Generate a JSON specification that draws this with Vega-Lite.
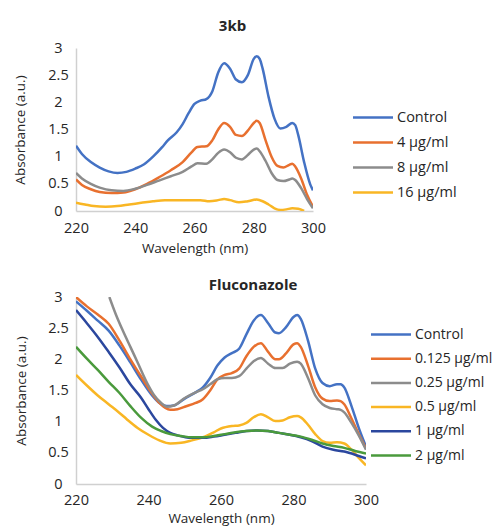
{
  "$schema": "https://vega.github.io/schema/vega-lite/v6.json",
  "background": "white",
  "padding": {"top": 19, "left": 13, "right": 0, "bottom": 3},
  "spacing": 23,
  "config": {
    "font": "Open Sans",
    "view": {"stroke": null},
    "axis": {"grid": false, "ticks": false, "labelFlush": false, "domainColor": "#D0D0D0", "domainWidth": 1.5, "labelFont": "Open Sans", "labelFontSize": 14.5, "labelColor": "#262626", "titleFont": "Open Sans", "titleFontSize": 13.5, "titleFontWeight": "normal", "titleColor": "#262626"},
    "legend": {"labelFont": "Open Sans", "labelFontSize": 14, "labelColor": "#262626", "symbolType": "M-2,0H2", "symbolSize": 400, "symbolStrokeWidth": 2.5, "symbolOffset": 8.5, "labelOffset": 12.5, "title": null}
  },
  "resolve": {"scale": {"color": "independent"}},
  "datasets": {
    "top": [
      {"s":"Control","wl":220,"A":1.20},{"s":"Control","wl":222,"A":1.05},{"s":"Control","wl":225,"A":0.90},{"s":"Control","wl":228,"A":0.80},{"s":"Control","wl":231,"A":0.73},{"s":"Control","wl":234,"A":0.70},{"s":"Control","wl":237,"A":0.72},{"s":"Control","wl":240,"A":0.78},{"s":"Control","wl":243,"A":0.86},{"s":"Control","wl":246,"A":1.00},{"s":"Control","wl":249,"A":1.17},{"s":"Control","wl":251,"A":1.30},{"s":"Control","wl":254,"A":1.45},{"s":"Control","wl":256,"A":1.60},{"s":"Control","wl":258,"A":1.80},{"s":"Control","wl":260,"A":1.97},{"s":"Control","wl":262,"A":2.03},{"s":"Control","wl":264,"A":2.06},{"s":"Control","wl":266,"A":2.20},{"s":"Control","wl":268,"A":2.55},{"s":"Control","wl":270,"A":2.72},{"s":"Control","wl":272,"A":2.62},{"s":"Control","wl":274,"A":2.42},{"s":"Control","wl":276,"A":2.37},{"s":"Control","wl":278,"A":2.50},{"s":"Control","wl":280,"A":2.80},{"s":"Control","wl":281,"A":2.85},{"s":"Control","wl":282,"A":2.80},{"s":"Control","wl":283,"A":2.62},{"s":"Control","wl":285,"A":2.10},{"s":"Control","wl":287,"A":1.70},{"s":"Control","wl":289,"A":1.52},{"s":"Control","wl":291,"A":1.55},{"s":"Control","wl":293,"A":1.62},{"s":"Control","wl":294,"A":1.58},{"s":"Control","wl":295,"A":1.40},{"s":"Control","wl":297,"A":0.90},{"s":"Control","wl":299,"A":0.50},{"s":"Control","wl":300,"A":0.38},
      {"s":"4 µg/ml","wl":220,"A":0.58},{"s":"4 µg/ml","wl":222,"A":0.48},{"s":"4 µg/ml","wl":225,"A":0.40},{"s":"4 µg/ml","wl":228,"A":0.35},{"s":"4 µg/ml","wl":232,"A":0.33},{"s":"4 µg/ml","wl":236,"A":0.34},{"s":"4 µg/ml","wl":240,"A":0.40},{"s":"4 µg/ml","wl":244,"A":0.50},{"s":"4 µg/ml","wl":248,"A":0.62},{"s":"4 µg/ml","wl":252,"A":0.75},{"s":"4 µg/ml","wl":256,"A":0.90},{"s":"4 µg/ml","wl":259,"A":1.08},{"s":"4 µg/ml","wl":261,"A":1.18},{"s":"4 µg/ml","wl":264,"A":1.19},{"s":"4 µg/ml","wl":266,"A":1.30},{"s":"4 µg/ml","wl":268,"A":1.50},{"s":"4 µg/ml","wl":270,"A":1.62},{"s":"4 µg/ml","wl":272,"A":1.55},{"s":"4 µg/ml","wl":274,"A":1.40},{"s":"4 µg/ml","wl":276,"A":1.38},{"s":"4 µg/ml","wl":278,"A":1.48},{"s":"4 µg/ml","wl":280,"A":1.62},{"s":"4 µg/ml","wl":281,"A":1.66},{"s":"4 µg/ml","wl":282,"A":1.62},{"s":"4 µg/ml","wl":284,"A":1.30},{"s":"4 µg/ml","wl":286,"A":1.00},{"s":"4 µg/ml","wl":288,"A":0.83},{"s":"4 µg/ml","wl":290,"A":0.80},{"s":"4 µg/ml","wl":292,"A":0.85},{"s":"4 µg/ml","wl":293,"A":0.87},{"s":"4 µg/ml","wl":294,"A":0.82},{"s":"4 µg/ml","wl":296,"A":0.60},{"s":"4 µg/ml","wl":298,"A":0.30},{"s":"4 µg/ml","wl":300,"A":0.08},
      {"s":"8 µg/ml","wl":220,"A":0.70},{"s":"8 µg/ml","wl":222,"A":0.60},{"s":"8 µg/ml","wl":225,"A":0.50},{"s":"8 µg/ml","wl":228,"A":0.43},{"s":"8 µg/ml","wl":232,"A":0.38},{"s":"8 µg/ml","wl":236,"A":0.37},{"s":"8 µg/ml","wl":240,"A":0.41},{"s":"8 µg/ml","wl":244,"A":0.48},{"s":"8 µg/ml","wl":248,"A":0.56},{"s":"8 µg/ml","wl":252,"A":0.64},{"s":"8 µg/ml","wl":256,"A":0.72},{"s":"8 µg/ml","wl":259,"A":0.82},{"s":"8 µg/ml","wl":261,"A":0.88},{"s":"8 µg/ml","wl":264,"A":0.87},{"s":"8 µg/ml","wl":266,"A":0.95},{"s":"8 µg/ml","wl":268,"A":1.07},{"s":"8 µg/ml","wl":270,"A":1.13},{"s":"8 µg/ml","wl":272,"A":1.08},{"s":"8 µg/ml","wl":274,"A":0.98},{"s":"8 µg/ml","wl":276,"A":0.95},{"s":"8 µg/ml","wl":278,"A":1.03},{"s":"8 µg/ml","wl":280,"A":1.13},{"s":"8 µg/ml","wl":281,"A":1.15},{"s":"8 µg/ml","wl":282,"A":1.10},{"s":"8 µg/ml","wl":284,"A":0.92},{"s":"8 µg/ml","wl":286,"A":0.70},{"s":"8 µg/ml","wl":288,"A":0.57},{"s":"8 µg/ml","wl":290,"A":0.55},{"s":"8 µg/ml","wl":292,"A":0.58},{"s":"8 µg/ml","wl":293,"A":0.60},{"s":"8 µg/ml","wl":294,"A":0.57},{"s":"8 µg/ml","wl":296,"A":0.42},{"s":"8 µg/ml","wl":298,"A":0.22},{"s":"8 µg/ml","wl":300,"A":0.05},
      {"s":"16 µg/ml","wl":220,"A":0.15},{"s":"16 µg/ml","wl":223,"A":0.12},{"s":"16 µg/ml","wl":226,"A":0.09},{"s":"16 µg/ml","wl":230,"A":0.08},{"s":"16 µg/ml","wl":234,"A":0.09},{"s":"16 µg/ml","wl":238,"A":0.12},{"s":"16 µg/ml","wl":242,"A":0.15},{"s":"16 µg/ml","wl":246,"A":0.18},{"s":"16 µg/ml","wl":250,"A":0.20},{"s":"16 µg/ml","wl":254,"A":0.20},{"s":"16 µg/ml","wl":258,"A":0.20},{"s":"16 µg/ml","wl":262,"A":0.20},{"s":"16 µg/ml","wl":265,"A":0.18},{"s":"16 µg/ml","wl":268,"A":0.20},{"s":"16 µg/ml","wl":270,"A":0.22},{"s":"16 µg/ml","wl":272,"A":0.20},{"s":"16 µg/ml","wl":275,"A":0.16},{"s":"16 µg/ml","wl":278,"A":0.18},{"s":"16 µg/ml","wl":281,"A":0.21},{"s":"16 µg/ml","wl":283,"A":0.18},{"s":"16 µg/ml","wl":285,"A":0.12},{"s":"16 µg/ml","wl":287,"A":0.05},{"s":"16 µg/ml","wl":289,"A":0.02},{"s":"16 µg/ml","wl":291,"A":0.03},{"s":"16 µg/ml","wl":293,"A":0.05},{"s":"16 µg/ml","wl":295,"A":0.04},{"s":"16 µg/ml","wl":297,"A":0.0}
    ],
    "bot": [
      {"s":"Control","wl":220,"A":2.93},{"s":"Control","wl":223,"A":2.78},{"s":"Control","wl":226,"A":2.62},{"s":"Control","wl":229,"A":2.46},{"s":"Control","wl":232,"A":2.22},{"s":"Control","wl":235,"A":1.95},{"s":"Control","wl":238,"A":1.67},{"s":"Control","wl":241,"A":1.42},{"s":"Control","wl":243,"A":1.30},{"s":"Control","wl":245,"A":1.25},{"s":"Control","wl":247,"A":1.26},{"s":"Control","wl":250,"A":1.37},{"s":"Control","wl":253,"A":1.47},{"s":"Control","wl":255,"A":1.55},{"s":"Control","wl":257,"A":1.70},{"s":"Control","wl":259,"A":1.90},{"s":"Control","wl":261,"A":2.03},{"s":"Control","wl":263,"A":2.10},{"s":"Control","wl":265,"A":2.17},{"s":"Control","wl":267,"A":2.40},{"s":"Control","wl":269,"A":2.62},{"s":"Control","wl":271,"A":2.71},{"s":"Control","wl":273,"A":2.58},{"s":"Control","wl":275,"A":2.43},{"s":"Control","wl":276,"A":2.42},{"s":"Control","wl":278,"A":2.52},{"s":"Control","wl":280,"A":2.68},{"s":"Control","wl":281,"A":2.71},{"s":"Control","wl":282,"A":2.65},{"s":"Control","wl":284,"A":2.30},{"s":"Control","wl":286,"A":1.85},{"s":"Control","wl":288,"A":1.62},{"s":"Control","wl":290,"A":1.57},{"s":"Control","wl":292,"A":1.60},{"s":"Control","wl":293,"A":1.60},{"s":"Control","wl":294,"A":1.55},{"s":"Control","wl":296,"A":1.25},{"s":"Control","wl":298,"A":0.90},{"s":"Control","wl":300,"A":0.60},
      {"s":"0.125 µg/ml","wl":220,"A":3.00},{"s":"0.125 µg/ml","wl":223,"A":2.85},{"s":"0.125 µg/ml","wl":226,"A":2.72},{"s":"0.125 µg/ml","wl":229,"A":2.57},{"s":"0.125 µg/ml","wl":232,"A":2.30},{"s":"0.125 µg/ml","wl":235,"A":2.00},{"s":"0.125 µg/ml","wl":238,"A":1.72},{"s":"0.125 µg/ml","wl":241,"A":1.45},{"s":"0.125 µg/ml","wl":243,"A":1.30},{"s":"0.125 µg/ml","wl":246,"A":1.19},{"s":"0.125 µg/ml","wl":248,"A":1.20},{"s":"0.125 µg/ml","wl":250,"A":1.24},{"s":"0.125 µg/ml","wl":253,"A":1.30},{"s":"0.125 µg/ml","wl":255,"A":1.36},{"s":"0.125 µg/ml","wl":257,"A":1.50},{"s":"0.125 µg/ml","wl":259,"A":1.68},{"s":"0.125 µg/ml","wl":261,"A":1.75},{"s":"0.125 µg/ml","wl":263,"A":1.78},{"s":"0.125 µg/ml","wl":265,"A":1.85},{"s":"0.125 µg/ml","wl":267,"A":2.05},{"s":"0.125 µg/ml","wl":269,"A":2.20},{"s":"0.125 µg/ml","wl":271,"A":2.26},{"s":"0.125 µg/ml","wl":273,"A":2.12},{"s":"0.125 µg/ml","wl":275,"A":2.00},{"s":"0.125 µg/ml","wl":276,"A":2.00},{"s":"0.125 µg/ml","wl":278,"A":2.10},{"s":"0.125 µg/ml","wl":280,"A":2.24},{"s":"0.125 µg/ml","wl":281,"A":2.26},{"s":"0.125 µg/ml","wl":282,"A":2.20},{"s":"0.125 µg/ml","wl":284,"A":1.90},{"s":"0.125 µg/ml","wl":286,"A":1.55},{"s":"0.125 µg/ml","wl":288,"A":1.37},{"s":"0.125 µg/ml","wl":290,"A":1.33},{"s":"0.125 µg/ml","wl":292,"A":1.34},{"s":"0.125 µg/ml","wl":293,"A":1.33},{"s":"0.125 µg/ml","wl":294,"A":1.28},{"s":"0.125 µg/ml","wl":296,"A":1.05},{"s":"0.125 µg/ml","wl":298,"A":0.80},{"s":"0.125 µg/ml","wl":300,"A":0.57},
      {"s":"0.25 µg/ml","wl":229.2,"A":3.00},{"s":"0.25 µg/ml","wl":231,"A":2.72},{"s":"0.25 µg/ml","wl":233,"A":2.45},{"s":"0.25 µg/ml","wl":235,"A":2.20},{"s":"0.25 µg/ml","wl":237,"A":1.95},{"s":"0.25 µg/ml","wl":239.8,"A":1.60},{"s":"0.25 µg/ml","wl":241.5,"A":1.43},{"s":"0.25 µg/ml","wl":243.5,"A":1.30},{"s":"0.25 µg/ml","wl":245,"A":1.24},{"s":"0.25 µg/ml","wl":247,"A":1.26},{"s":"0.25 µg/ml","wl":250,"A":1.38},{"s":"0.25 µg/ml","wl":253,"A":1.47},{"s":"0.25 µg/ml","wl":255,"A":1.52},{"s":"0.25 µg/ml","wl":257,"A":1.60},{"s":"0.25 µg/ml","wl":259,"A":1.68},{"s":"0.25 µg/ml","wl":261,"A":1.70},{"s":"0.25 µg/ml","wl":263,"A":1.70},{"s":"0.25 µg/ml","wl":265,"A":1.73},{"s":"0.25 µg/ml","wl":267,"A":1.85},{"s":"0.25 µg/ml","wl":269,"A":1.97},{"s":"0.25 µg/ml","wl":271,"A":2.02},{"s":"0.25 µg/ml","wl":273,"A":1.93},{"s":"0.25 µg/ml","wl":275,"A":1.86},{"s":"0.25 µg/ml","wl":277,"A":1.86},{"s":"0.25 µg/ml","wl":279,"A":1.93},{"s":"0.25 µg/ml","wl":281,"A":1.96},{"s":"0.25 µg/ml","wl":282,"A":1.93},{"s":"0.25 µg/ml","wl":284,"A":1.70},{"s":"0.25 µg/ml","wl":286,"A":1.42},{"s":"0.25 µg/ml","wl":288,"A":1.28},{"s":"0.25 µg/ml","wl":290,"A":1.22},{"s":"0.25 µg/ml","wl":292,"A":1.20},{"s":"0.25 µg/ml","wl":293,"A":1.19},{"s":"0.25 µg/ml","wl":294,"A":1.15},{"s":"0.25 µg/ml","wl":296,"A":0.98},{"s":"0.25 µg/ml","wl":298,"A":0.78},{"s":"0.25 µg/ml","wl":300,"A":0.55},
      {"s":"0.5 µg/ml","wl":220,"A":1.75},{"s":"0.5 µg/ml","wl":223,"A":1.58},{"s":"0.5 µg/ml","wl":226,"A":1.42},{"s":"0.5 µg/ml","wl":229,"A":1.28},{"s":"0.5 µg/ml","wl":232,"A":1.14},{"s":"0.5 µg/ml","wl":234,"A":1.04},{"s":"0.5 µg/ml","wl":237,"A":0.90},{"s":"0.5 µg/ml","wl":240,"A":0.79},{"s":"0.5 µg/ml","wl":243,"A":0.70},{"s":"0.5 µg/ml","wl":246,"A":0.65},{"s":"0.5 µg/ml","wl":249,"A":0.66},{"s":"0.5 µg/ml","wl":252,"A":0.70},{"s":"0.5 µg/ml","wl":255,"A":0.75},{"s":"0.5 µg/ml","wl":258,"A":0.83},{"s":"0.5 µg/ml","wl":260,"A":0.89},{"s":"0.5 µg/ml","wl":263,"A":0.93},{"s":"0.5 µg/ml","wl":265,"A":0.94},{"s":"0.5 µg/ml","wl":267,"A":0.98},{"s":"0.5 µg/ml","wl":269,"A":1.07},{"s":"0.5 µg/ml","wl":271,"A":1.12},{"s":"0.5 µg/ml","wl":273,"A":1.07},{"s":"0.5 µg/ml","wl":275,"A":1.01},{"s":"0.5 µg/ml","wl":277,"A":1.02},{"s":"0.5 µg/ml","wl":279,"A":1.07},{"s":"0.5 µg/ml","wl":281,"A":1.09},{"s":"0.5 µg/ml","wl":282,"A":1.07},{"s":"0.5 µg/ml","wl":284,"A":0.95},{"s":"0.5 µg/ml","wl":286,"A":0.80},{"s":"0.5 µg/ml","wl":288,"A":0.69},{"s":"0.5 µg/ml","wl":290,"A":0.66},{"s":"0.5 µg/ml","wl":292,"A":0.67},{"s":"0.5 µg/ml","wl":294,"A":0.65},{"s":"0.5 µg/ml","wl":296,"A":0.55},{"s":"0.5 µg/ml","wl":298,"A":0.42},{"s":"0.5 µg/ml","wl":300,"A":0.30},
      {"s":"1 µg/ml","wl":220,"A":2.79},{"s":"1 µg/ml","wl":223,"A":2.58},{"s":"1 µg/ml","wl":226,"A":2.36},{"s":"1 µg/ml","wl":229,"A":2.12},{"s":"1 µg/ml","wl":232,"A":1.87},{"s":"1 µg/ml","wl":235,"A":1.60},{"s":"1 µg/ml","wl":238,"A":1.38},{"s":"1 µg/ml","wl":240,"A":1.20},{"s":"1 µg/ml","wl":242,"A":1.03},{"s":"1 µg/ml","wl":244,"A":0.90},{"s":"1 µg/ml","wl":246,"A":0.82},{"s":"1 µg/ml","wl":248,"A":0.78},{"s":"1 µg/ml","wl":252,"A":0.74},{"s":"1 µg/ml","wl":255,"A":0.74},{"s":"1 µg/ml","wl":258,"A":0.76},{"s":"1 µg/ml","wl":261,"A":0.79},{"s":"1 µg/ml","wl":264,"A":0.82},{"s":"1 µg/ml","wl":267,"A":0.85},{"s":"1 µg/ml","wl":270,"A":0.86},{"s":"1 µg/ml","wl":273,"A":0.85},{"s":"1 µg/ml","wl":276,"A":0.82},{"s":"1 µg/ml","wl":279,"A":0.79},{"s":"1 µg/ml","wl":282,"A":0.75},{"s":"1 µg/ml","wl":285,"A":0.69},{"s":"1 µg/ml","wl":288,"A":0.60},{"s":"1 µg/ml","wl":291,"A":0.55},{"s":"1 µg/ml","wl":294,"A":0.52},{"s":"1 µg/ml","wl":297,"A":0.47},{"s":"1 µg/ml","wl":300,"A":0.41},
      {"s":"2 µg/ml","wl":220,"A":2.20},{"s":"2 µg/ml","wl":223,"A":2.01},{"s":"2 µg/ml","wl":226,"A":1.83},{"s":"2 µg/ml","wl":229,"A":1.64},{"s":"2 µg/ml","wl":232,"A":1.46},{"s":"2 µg/ml","wl":235,"A":1.25},{"s":"2 µg/ml","wl":238,"A":1.06},{"s":"2 µg/ml","wl":241,"A":0.92},{"s":"2 µg/ml","wl":243.5,"A":0.85},{"s":"2 µg/ml","wl":246,"A":0.80},{"s":"2 µg/ml","wl":249,"A":0.77},{"s":"2 µg/ml","wl":252,"A":0.75},{"s":"2 µg/ml","wl":255,"A":0.75},{"s":"2 µg/ml","wl":258,"A":0.77},{"s":"2 µg/ml","wl":261,"A":0.80},{"s":"2 µg/ml","wl":264,"A":0.83},{"s":"2 µg/ml","wl":267,"A":0.85},{"s":"2 µg/ml","wl":270,"A":0.86},{"s":"2 µg/ml","wl":273,"A":0.85},{"s":"2 µg/ml","wl":276,"A":0.82},{"s":"2 µg/ml","wl":279,"A":0.79},{"s":"2 µg/ml","wl":282,"A":0.76},{"s":"2 µg/ml","wl":285,"A":0.71},{"s":"2 µg/ml","wl":288,"A":0.65},{"s":"2 µg/ml","wl":291,"A":0.61},{"s":"2 µg/ml","wl":294,"A":0.58},{"s":"2 µg/ml","wl":297,"A":0.53},{"s":"2 µg/ml","wl":300,"A":0.49}
    ]
  },
  "vconcat": [
    {
      "width": 237, "height": 163,
      "title": {"text": "3kb", "frame": "group", "dx": 38, "offset": 6, "fontSize": 15, "fontWeight": "bold", "font": "Open Sans", "color": "#262626"},
      "data": {"name": "top"},
      "mark": {"type": "line", "interpolate": "monotone", "strokeWidth": 2.5, "clip": true},
      "encoding": {
        "x": {"field": "wl", "type": "quantitative", "scale": {"domain": [220, 300], "nice": false}, "axis": {"values": [220, 240, 260, 280, 300], "title": "Wavelength (nm)", "labelPadding": 10, "titlePadding": 7}},
        "y": {"field": "A", "type": "quantitative", "scale": {"domain": [0, 3], "nice": false}, "axis": {"values": [0, 0.5, 1, 1.5, 2, 2.5, 3], "format": "~g", "title": "Absorbance (a.u.)", "labelAlign": "center", "labelPadding": 18, "titleX": -56, "titleY": 81.5, "titleAlign": "center", "titleBaseline": "middle", "titleAngle": -90}},
        "color": {"field": "s", "type": "nominal", "sort": null, "scale": {"domain": ["Control", "4 µg/ml", "8 µg/ml", "16 µg/ml"], "range": ["#4472C4", "#E8702F", "#8C8C8C", "#F9B624"]}, "legend": {"orient": "none", "legendX": 277, "legendY": 58, "rowPadding": 7, "labelFontSize": 14.5}}
      }
    },
    {
      "width": 290, "height": 187,
      "title": {"text": "Fluconazole", "frame": "group", "dx": 32, "offset": -4, "fontSize": 15, "fontWeight": "bold", "font": "Open Sans", "color": "#262626"},
      "data": {"name": "bot"},
      "mark": {"type": "line", "interpolate": "monotone", "strokeWidth": 2.5, "clip": true},
      "encoding": {
        "x": {"field": "wl", "type": "quantitative", "scale": {"domain": [220, 300], "nice": false}, "axis": {"values": [220, 240, 260, 280, 300], "title": "Wavelength (nm)", "labelPadding": 9, "titlePadding": 5}},
        "y": {"field": "A", "type": "quantitative", "scale": {"domain": [0, 3], "nice": false}, "axis": {"values": [0, 0.5, 1, 1.5, 2, 2.5, 3], "format": "~g", "title": "Absorbance (a.u.)", "labelAlign": "center", "labelPadding": 18, "titleX": -55, "titleY": 93.5, "titleAlign": "center", "titleBaseline": "middle", "titleAngle": -90}},
        "color": {"field": "s", "type": "nominal", "sort": null, "scale": {"domain": ["Control", "0.125 µg/ml", "0.25 µg/ml", "0.5 µg/ml", "1 µg/ml", "2 µg/ml"], "range": ["#4472C4", "#E8702F", "#8C8C8C", "#F9B624", "#2B479E", "#4A9A3C"]}, "legend": {"orient": "none", "legendX": 295, "legendY": 26, "rowPadding": 5.2}}
      }
    }
  ]
}
